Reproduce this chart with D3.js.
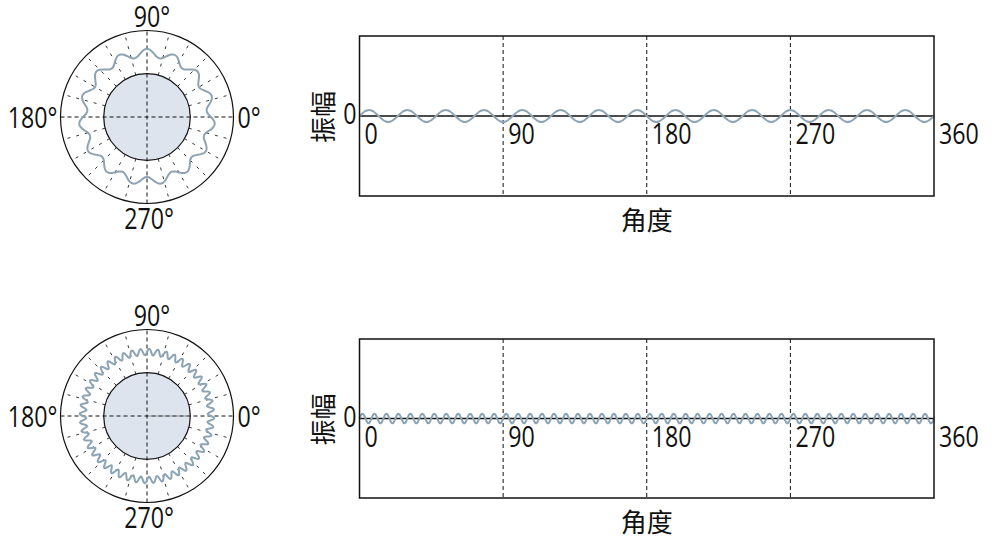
<!DOCTYPE html>
<html>
<head>
<meta charset="utf-8">
<script src="https://cdn.jsdelivr.net/npm/d3@7"></script>
<style>
  body { margin: 0; background: #fff; }
  svg { display: block; }
  .num { font-family: "Open Sans", "Noto Sans", sans-serif; font-size: 29px; fill: #111; }
  .cjk { font-family: "Noto Sans CJK SC", "Noto Sans CJK JP", sans-serif; font-size: 26px; fill: #111; }
</style>
</head>
<body>
<div id="chart"></div>
<script>
// ===========Data
// one period of the wave (16 samples)
var cycleShape = [0, 0.38, 0.71, 0.92, 1, 0.92, 0.71, 0.38, 0, -0.38, -0.71, -0.92, -1, -0.92, -0.71, -0.38];
var cycleCounts = [15, 48];          // periods over 0..360, top and bottom row
var amplitudes = [0.15, 0.12];       // peak amplitude of each row
var xTicks = [0, 90, 180, 270, 360];
var xGrid = [90, 180, 270];
var yTicks = [0];
var polarLabels = ["0°", "90°", "180°", "270°"];
var radialGrid = d3.range(0, 360, 15);

var svgWidth = 993, svgHeight = 538;

var svg = d3.select("#chart").append("svg")
    .attr("width", svgWidth)
    .attr("height", svgHeight);

// build a row's series by repeating the read-off period
function buildSeries(row) {
    var n = cycleShape.length;
    var total = cycleCounts[row] * n;
    var pts = [];
    for (var i = 0; i <= total; i++) {
        pts.push({ deg: i * 360 / total, v: amplitudes[row] * cycleShape[i % n] });
    }
    return pts;
}

// scaled-x text (labels in the picture are narrow)
function addNum(g, x, y, str, anchor) {
    return g.append("text")
        .attr("class", "num")
        .attr("transform", `translate(${x},${y}) scale(0.8,1)`)
        .attr("text-anchor", anchor)
        .text(str);
}

var rows = [
    { cy: 117, top: 36, bottom: 196, greyRight: false },
    { cy: 416, top: 339, bottom: 498, greyRight: true }
];

rows.forEach(function(row, i) {
    var series = buildSeries(i);

    // ===========Polar panel
    var cx = 147;
    var outerR = 86.5, innerR = 43.3;
    var rScale = d3.scaleLinear().domain([-1, 1]).range([91, 37]);

    var pg = svg.append("g").attr("transform", `translate(${cx},${row.cy})`);

    pg.append("circle")
        .attr("r", outerR)
        .attr("fill", "none")
        .attr("stroke", "#111")
        .attr("stroke-width", 1.2);

    pg.selectAll("line.radial")
        .data(radialGrid.filter(a => a % 90 !== 0))
        .enter().append("line")
        .attr("class", "radial")
        .attr("x1", a => innerR * Math.cos(a * Math.PI / 180))
        .attr("y1", a => -innerR * Math.sin(a * Math.PI / 180))
        .attr("x2", a => outerR * Math.cos(a * Math.PI / 180))
        .attr("y2", a => -outerR * Math.sin(a * Math.PI / 180))
        .attr("stroke", "#222")
        .attr("stroke-width", 0.9)
        .attr("stroke-dasharray", "3,6");

    pg.append("circle")
        .attr("r", innerR)
        .attr("fill", "#dee4ed")
        .attr("stroke", "#111")
        .attr("stroke-width", 1.2);

    pg.selectAll("line.cross")
        .data([0, 90])
        .enter().append("line")
        .attr("class", "cross")
        .attr("x1", a => -outerR * Math.cos(a * Math.PI / 180))
        .attr("y1", a => outerR * Math.sin(a * Math.PI / 180))
        .attr("x2", a => outerR * Math.cos(a * Math.PI / 180))
        .attr("y2", a => -outerR * Math.sin(a * Math.PI / 180))
        .attr("stroke", "#111")
        .attr("stroke-width", 1)
        .attr("stroke-dasharray", "4,3");

    if (row.greyRight) {
        pg.append("line")
            .attr("x1", 1).attr("x2", innerR - 1)
            .attr("y1", 0).attr("y2", 0)
            .attr("stroke", "#8a8f96")
            .attr("stroke-width", 1.2)
            .attr("stroke-dasharray", "4,3");
    }

    var radial = d3.lineRadial()
        .angle(d => (90 - d.deg) * Math.PI / 180)
        .radius(d => rScale(d.v))
        .curve(d3.curveCatmullRom);

    pg.append("path")
        .datum(series)
        .attr("d", radial)
        .attr("fill", "none")
        .attr("stroke", "#8da4b4")
        .attr("stroke-width", 2);

    // polar angle labels
    var labelPos = [
        { x: outerR + 4, y: 11, anchor: "start" },
        { x: 5, y: -outerR - 4, anchor: "middle" },
        { x: -outerR - 3, y: 11, anchor: "end" },
        { x: 2, y: outerR + 25, anchor: "middle" }
    ];
    polarLabels.forEach(function(lbl, k) {
        addNum(pg, labelPos[k].x, labelPos[k].y, lbl, labelPos[k].anchor);
    });

    // ===========Linear panel
    var left = 359.5, right = 934;
    var xScale = d3.scaleLinear().domain([0, 360]).range([left, right]);
    var yScale = d3.scaleLinear().domain([-2, 2]).range([row.bottom, row.top]);

    var lg = svg.append("g");

    lg.selectAll("line.vgrid")
        .data(xGrid)
        .enter().append("line")
        .attr("class", "vgrid")
        .attr("x1", d => xScale(d)).attr("x2", d => xScale(d))
        .attr("y1", row.top).attr("y2", row.bottom)
        .attr("stroke", "#111")
        .attr("stroke-width", 1)
        .attr("stroke-dasharray", "4,3");

    lg.append("line")
        .attr("x1", left).attr("x2", right)
        .attr("y1", yScale(0)).attr("y2", yScale(0))
        .attr("stroke", "#111")
        .attr("stroke-width", 1.5);

    var line = d3.line()
        .x(d => xScale(d.deg))
        .y(d => yScale(d.v))
        .curve(d3.curveCatmullRom);

    lg.append("path")
        .datum(series)
        .attr("d", line)
        .attr("fill", "none")
        .attr("stroke", "#8da4b4")
        .attr("stroke-width", 2);

    lg.append("rect")
        .attr("x", left).attr("y", row.top)
        .attr("width", right - left).attr("height", row.bottom - row.top)
        .attr("fill", "none")
        .attr("stroke", "#111")
        .attr("stroke-width", 1.5);

    xTicks.forEach(function(t) {
        addNum(lg, xScale(t) + 5, yScale(0) + 28, t, "start");
    });
    yTicks.forEach(function(t) {
        addNum(lg, left - 3, yScale(t) + 8, t, "end");
    });

    // axis titles
    lg.append("text")
        .attr("class", "cjk")
        .attr("transform", `translate(333,${yScale(0) + 1}) rotate(-90)`)
        .attr("text-anchor", "middle")
        .text("振幅");

    lg.append("text")
        .attr("class", "cjk")
        .attr("x", (left + right) / 2)
        .attr("y", row.bottom + 34)
        .attr("text-anchor", "middle")
        .text("角度");
});
</script>
</body>
</html>
